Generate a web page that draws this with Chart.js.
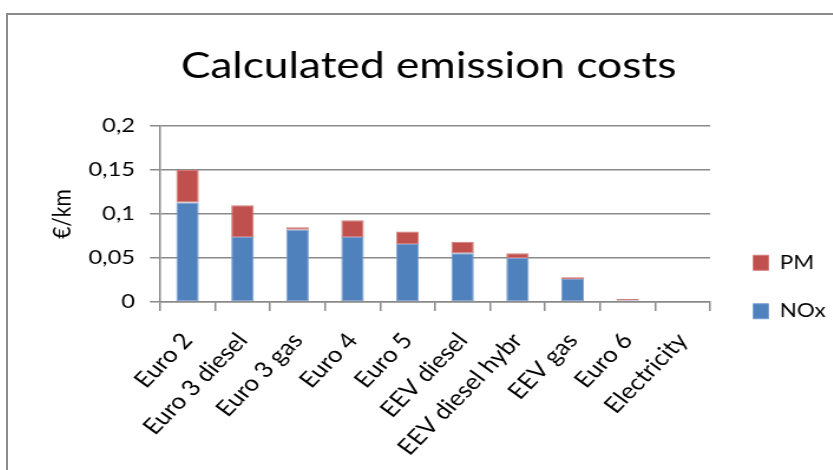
<!DOCTYPE html>
<html>
<head>
<meta charset="utf-8">
<script src="https://cdn.jsdelivr.net/npm/chart.js@4/dist/chart.umd.min.js"></script>
<style>
  html, body { margin: 0; padding: 0; background: #fff; overflow: hidden; width: 833px; height: 470px; }
  #frame { position: absolute; left: 6px; top: 13px; width: 846px; height: 560px; border: 2px solid #8b8b8b; box-sizing: border-box; }
  /* the chart is laid out a little narrow and widened to the frame */
  #chart { position: absolute; left: 8px; top: 15px; transform: scaleX(1.18); transform-origin: 0 0; }
</style>
</head>
<body>
<div id="frame"></div>
<canvas id="chart" width="722" height="544"></canvas>
<script>
// Emission cost per vehicle technology, €/km, split into NOx and PM parts
const categories = ['Euro 2', 'Euro 3 diesel', 'Euro 3 gas', 'Euro 4', 'Euro 5',
                    'EEV diesel', 'EEV diesel hybr', 'EEV gas', 'Euro 6', 'Electricity'];
const noxValues = [0.113, 0.074, 0.082, 0.074, 0.066, 0.0555, 0.050, 0.026, 0.0018, 0];
const pmValues  = [0.037, 0.036, 0.003, 0.019, 0.014, 0.013, 0.0055, 0.002, 0.0015, 0];
const yTickLabels = ['0', '0,05', '0,1', '0,15', '0,2'];

const FONT = 'Lato, "Open Sans", sans-serif';
const GRID = '#8a8a8a';

// Horizontal layout (canvas units): plot spans 128.8 .. 595, title centred on 356.4
const CANVAS_W = 722;
const PLOT_LEFT = 128.8;
const PLOT_RIGHT = 595;
const TITLE_CENTER = 356.4;
const LEGEND_GAP = 7;
const LEGEND_FONT = 19, LEGEND_BOX = 13, LEGEND_PAD = 29.5;

// width the right-hand legend will claim: padding + box + gap + longest label,
// plus the 10px Chart.js adds to a vertical legend
const measureCtx = document.createElement('canvas').getContext('2d');
measureCtx.font = LEGEND_FONT + 'px ' + FONT;
const legendWidth = LEGEND_PAD + LEGEND_BOX + LEGEND_FONT / 2 + 10 +
  Math.max(measureCtx.measureText('NOx').width, measureCtx.measureText('PM').width);
const padRight = CANVAS_W - PLOT_RIGHT - LEGEND_GAP - legendWidth;
const padLeft = 2 * TITLE_CENTER - CANVAS_W + padRight;

new Chart(document.getElementById('chart'), {
  type: 'bar',
  data: {
    labels: categories,
    datasets: [
      {
        label: 'NOx',
        data: noxValues,
        backgroundColor: '#4f81bd',
        borderColor: '#7d9fcf',
        borderWidth: 1,
        borderSkipped: false,
        barPercentage: 0.41,
        categoryPercentage: 1
      },
      {
        label: 'PM',
        data: pmValues,
        backgroundColor: '#c0504d',
        borderColor: '#d37c79',
        borderWidth: 1,
        borderSkipped: false,
        barPercentage: 0.41,
        categoryPercentage: 1
      }
    ]
  },
  options: {
    responsive: false,
    animation: false,
    layout: { padding: { left: padLeft, right: padRight, top: 0, bottom: 0 } },
    plugins: {
      tooltip: { enabled: false },
      title: {
        display: true,
        text: 'Calculated emission costs',
        color: '#000',
        font: { family: FONT, size: 37.5, weight: 'normal', lineHeight: 1.2 },
        padding: { top: 28.5, bottom: 37.5 }
      },
      legend: {
        position: 'right',
        reverse: true,
        labels: {
          color: '#000',
          font: { family: FONT, size: LEGEND_FONT },
          boxWidth: LEGEND_BOX,
          boxHeight: 15,
          padding: LEGEND_PAD
        }
      }
    },
    scales: {
      x: {
        stacked: true,
        grid: { display: true, drawOnChartArea: false, offset: true, color: GRID, lineWidth: 1.5, tickLength: 9 },
        border: { color: GRID, width: 1.5 },
        ticks: {
          color: '#000',
          font: { family: FONT, size: 22 },
          minRotation: 50,
          maxRotation: 50,
          autoSkip: false,
          padding: 17
        },
        afterFit: (scale) => { scale.height = 257; }
      },
      y: {
        stacked: true,
        min: 0,
        max: 0.2,
        grid: { color: GRID, lineWidth: 1.5, tickLength: 8.5 },
        border: { color: GRID, width: 1.5 },
        ticks: {
          stepSize: 0.05,
          color: '#000',
          font: { family: FONT, size: 20 },
          padding: 12.7,
          callback: (value, index) => yTickLabels[index]
        },
        title: {
          display: true,
          text: '€/km',
          color: '#000',
          font: { family: FONT, size: 21 },
          padding: { top: 33.2 - padLeft, bottom: 0 }
        },
        afterFit: (scale) => { scale.width = PLOT_LEFT - padLeft; }
      },
      legendGap: {
        position: 'right',
        display: true,
        grid: { display: false },
        border: { display: false },
        ticks: { display: false },
        afterFit: (scale) => { scale.width = LEGEND_GAP; }
      }
    }
  }
});
</script>
</body>
</html>
